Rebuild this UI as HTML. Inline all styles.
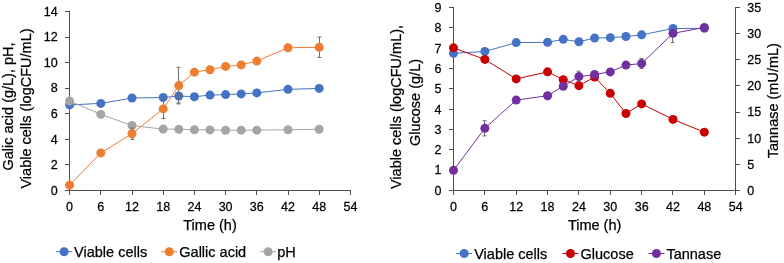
<!DOCTYPE html>
<html><head><meta charset="utf-8"><style>
html,body{margin:0;padding:0;background:#fff;}
svg{display:block;will-change:transform;}
text{font-family:"Liberation Sans", sans-serif;fill:#000000;stroke:#000000;stroke-width:0.25px;}
</style></head><body>
<svg width="784" height="263" viewBox="0 0 784 263">
<rect width="784" height="263" fill="#fff"/>
<line x1="69.5" y1="11.0" x2="69.5" y2="191.0" stroke="#4D4D4D" stroke-width="1"/>
<line x1="65.0" y1="190.5" x2="351.0" y2="190.5" stroke="#4D4D4D" stroke-width="1"/>
<line x1="65.0" y1="190.5" x2="69.5" y2="190.5" stroke="#4D4D4D" stroke-width="1"/>
<text transform="translate(57.60,194.80) scale(0.95,1)" text-anchor="end" font-size="13.2">0</text>
<line x1="65.0" y1="164.5" x2="69.5" y2="164.5" stroke="#4D4D4D" stroke-width="1"/>
<text transform="translate(57.60,169.22) scale(0.95,1)" text-anchor="end" font-size="13.2">2</text>
<line x1="65.0" y1="139.5" x2="69.5" y2="139.5" stroke="#4D4D4D" stroke-width="1"/>
<text transform="translate(57.60,143.64) scale(0.95,1)" text-anchor="end" font-size="13.2">4</text>
<line x1="65.0" y1="113.5" x2="69.5" y2="113.5" stroke="#4D4D4D" stroke-width="1"/>
<text transform="translate(57.60,118.06) scale(0.95,1)" text-anchor="end" font-size="13.2">6</text>
<line x1="65.0" y1="88.5" x2="69.5" y2="88.5" stroke="#4D4D4D" stroke-width="1"/>
<text transform="translate(57.60,92.48) scale(0.95,1)" text-anchor="end" font-size="13.2">8</text>
<line x1="65.0" y1="62.5" x2="69.5" y2="62.5" stroke="#4D4D4D" stroke-width="1"/>
<text transform="translate(57.60,66.90) scale(0.95,1)" text-anchor="end" font-size="13.2">10</text>
<line x1="65.0" y1="37.5" x2="69.5" y2="37.5" stroke="#4D4D4D" stroke-width="1"/>
<text transform="translate(57.60,41.32) scale(0.95,1)" text-anchor="end" font-size="13.2">12</text>
<line x1="65.0" y1="11.5" x2="69.5" y2="11.5" stroke="#4D4D4D" stroke-width="1"/>
<text transform="translate(57.60,15.74) scale(0.95,1)" text-anchor="end" font-size="13.2">14</text>
<line x1="69.5" y1="190.5" x2="69.5" y2="195.0" stroke="#4D4D4D" stroke-width="1"/>
<text transform="translate(69.60,210.5) scale(0.95,1)" text-anchor="middle" font-size="13.2">0</text>
<line x1="100.5" y1="190.5" x2="100.5" y2="195.0" stroke="#4D4D4D" stroke-width="1"/>
<text transform="translate(100.80,210.5) scale(0.95,1)" text-anchor="middle" font-size="13.2">6</text>
<line x1="132.5" y1="190.5" x2="132.5" y2="195.0" stroke="#4D4D4D" stroke-width="1"/>
<text transform="translate(132.00,210.5) scale(0.95,1)" text-anchor="middle" font-size="13.2">12</text>
<line x1="163.5" y1="190.5" x2="163.5" y2="195.0" stroke="#4D4D4D" stroke-width="1"/>
<text transform="translate(163.20,210.5) scale(0.95,1)" text-anchor="middle" font-size="13.2">18</text>
<line x1="194.5" y1="190.5" x2="194.5" y2="195.0" stroke="#4D4D4D" stroke-width="1"/>
<text transform="translate(194.40,210.5) scale(0.95,1)" text-anchor="middle" font-size="13.2">24</text>
<line x1="225.5" y1="190.5" x2="225.5" y2="195.0" stroke="#4D4D4D" stroke-width="1"/>
<text transform="translate(225.60,210.5) scale(0.95,1)" text-anchor="middle" font-size="13.2">30</text>
<line x1="256.5" y1="190.5" x2="256.5" y2="195.0" stroke="#4D4D4D" stroke-width="1"/>
<text transform="translate(256.80,210.5) scale(0.95,1)" text-anchor="middle" font-size="13.2">36</text>
<line x1="288.5" y1="190.5" x2="288.5" y2="195.0" stroke="#4D4D4D" stroke-width="1"/>
<text transform="translate(288.00,210.5) scale(0.95,1)" text-anchor="middle" font-size="13.2">42</text>
<line x1="319.5" y1="190.5" x2="319.5" y2="195.0" stroke="#4D4D4D" stroke-width="1"/>
<text transform="translate(319.20,210.5) scale(0.95,1)" text-anchor="middle" font-size="13.2">48</text>
<line x1="350.5" y1="190.5" x2="350.5" y2="195.0" stroke="#4D4D4D" stroke-width="1"/>
<text transform="translate(350.40,210.5) scale(0.95,1)" text-anchor="middle" font-size="13.2">54</text>
<line x1="178.50" y1="88.98" x2="178.50" y2="102.98" stroke="#6E6E6E" stroke-width="1"/>
<line x1="176.50" y1="88.98" x2="180.50" y2="88.98" stroke="#6E6E6E" stroke-width="1"/>
<line x1="176.50" y1="102.98" x2="180.50" y2="102.98" stroke="#6E6E6E" stroke-width="1"/>
<polyline points="69.60,104.93 100.80,103.40 132.00,98.03 163.20,97.52 178.80,95.98 194.40,96.75 210.00,95.09 225.60,94.58 241.20,93.94 256.80,92.91 288.00,89.33 319.20,88.44" fill="none" stroke="#4472C4" stroke-width="1.0"/>
<circle cx="69.60" cy="104.93" r="4.5" fill="#4472C4"/>
<circle cx="100.80" cy="103.40" r="4.5" fill="#4472C4"/>
<circle cx="132.00" cy="98.03" r="4.5" fill="#4472C4"/>
<circle cx="163.20" cy="97.52" r="4.5" fill="#4472C4"/>
<circle cx="178.80" cy="95.98" r="4.5" fill="#4472C4"/>
<circle cx="194.40" cy="96.75" r="4.5" fill="#4472C4"/>
<circle cx="210.00" cy="95.09" r="4.5" fill="#4472C4"/>
<circle cx="225.60" cy="94.58" r="4.5" fill="#4472C4"/>
<circle cx="241.20" cy="93.94" r="4.5" fill="#4472C4"/>
<circle cx="256.80" cy="92.91" r="4.5" fill="#4472C4"/>
<circle cx="288.00" cy="89.33" r="4.5" fill="#4472C4"/>
<circle cx="319.20" cy="88.44" r="4.5" fill="#4472C4"/>
<polyline points="69.60,100.97 100.80,114.40 132.00,125.53 163.20,129.11 178.80,129.24 194.40,129.75 210.00,129.88 225.60,130.26 241.20,130.13 256.80,130.13 288.00,129.75 319.20,129.24" fill="none" stroke="#A5A5A5" stroke-width="1.0"/>
<circle cx="69.60" cy="100.97" r="4.5" fill="#A5A5A5"/>
<circle cx="100.80" cy="114.40" r="4.5" fill="#A5A5A5"/>
<circle cx="132.00" cy="125.53" r="4.5" fill="#A5A5A5"/>
<circle cx="163.20" cy="129.11" r="4.5" fill="#A5A5A5"/>
<circle cx="178.80" cy="129.24" r="4.5" fill="#A5A5A5"/>
<circle cx="194.40" cy="129.75" r="4.5" fill="#A5A5A5"/>
<circle cx="210.00" cy="129.88" r="4.5" fill="#A5A5A5"/>
<circle cx="225.60" cy="130.26" r="4.5" fill="#A5A5A5"/>
<circle cx="241.20" cy="130.13" r="4.5" fill="#A5A5A5"/>
<circle cx="256.80" cy="130.13" r="4.5" fill="#A5A5A5"/>
<circle cx="288.00" cy="129.75" r="4.5" fill="#A5A5A5"/>
<circle cx="319.20" cy="129.24" r="4.5" fill="#A5A5A5"/>
<line x1="132.50" y1="128.01" x2="132.50" y2="139.41" stroke="#6E6E6E" stroke-width="1"/>
<line x1="130.50" y1="128.01" x2="134.50" y2="128.01" stroke="#6E6E6E" stroke-width="1"/>
<line x1="130.50" y1="139.41" x2="134.50" y2="139.41" stroke="#6E6E6E" stroke-width="1"/>
<line x1="163.50" y1="99.20" x2="163.50" y2="118.60" stroke="#6E6E6E" stroke-width="1"/>
<line x1="161.50" y1="99.20" x2="165.50" y2="99.20" stroke="#6E6E6E" stroke-width="1"/>
<line x1="161.50" y1="118.60" x2="165.50" y2="118.60" stroke="#6E6E6E" stroke-width="1"/>
<line x1="178.50" y1="67.32" x2="178.50" y2="103.92" stroke="#6E6E6E" stroke-width="1"/>
<line x1="176.50" y1="67.32" x2="180.50" y2="67.32" stroke="#6E6E6E" stroke-width="1"/>
<line x1="176.50" y1="103.92" x2="180.50" y2="103.92" stroke="#6E6E6E" stroke-width="1"/>
<line x1="319.50" y1="37.05" x2="319.50" y2="57.45" stroke="#6E6E6E" stroke-width="1"/>
<line x1="317.50" y1="37.05" x2="321.50" y2="37.05" stroke="#6E6E6E" stroke-width="1"/>
<line x1="317.50" y1="57.45" x2="321.50" y2="57.45" stroke="#6E6E6E" stroke-width="1"/>
<polyline points="69.60,185.13 100.80,152.90 132.00,133.71 163.20,108.90 178.80,85.62 194.40,72.19 210.00,69.76 225.60,66.44 241.20,64.90 256.80,61.07 288.00,47.76 319.20,47.25" fill="none" stroke="#ED7D31" stroke-width="1.0"/>
<circle cx="69.60" cy="185.13" r="4.5" fill="#ED7D31"/>
<circle cx="100.80" cy="152.90" r="4.5" fill="#ED7D31"/>
<circle cx="132.00" cy="133.71" r="4.5" fill="#ED7D31"/>
<circle cx="163.20" cy="108.90" r="4.5" fill="#ED7D31"/>
<circle cx="178.80" cy="85.62" r="4.5" fill="#ED7D31"/>
<circle cx="194.40" cy="72.19" r="4.5" fill="#ED7D31"/>
<circle cx="210.00" cy="69.76" r="4.5" fill="#ED7D31"/>
<circle cx="225.60" cy="66.44" r="4.5" fill="#ED7D31"/>
<circle cx="241.20" cy="64.90" r="4.5" fill="#ED7D31"/>
<circle cx="256.80" cy="61.07" r="4.5" fill="#ED7D31"/>
<circle cx="288.00" cy="47.76" r="4.5" fill="#ED7D31"/>
<circle cx="319.20" cy="47.25" r="4.5" fill="#ED7D31"/>
<text x="210.00" y="229.8" text-anchor="middle" font-size="14.5">Time (h)</text>
<text transform="translate(13.2,106.5) rotate(-90)" text-anchor="middle" font-size="14.5">Galic acid (g/L), pH,</text>
<text transform="translate(31.2,108.5) rotate(-90)" text-anchor="middle" font-size="14.5">Viable cells (logCFU/mL)</text>
<line x1="56.10" y1="251.7" x2="72.10" y2="251.7" stroke="#4472C4" stroke-width="1.0"/>
<circle cx="64.10" cy="251.7" r="4.5" fill="#4472C4"/>
<text x="74.10" y="256.90" font-size="14.5">Viable cells</text>
<line x1="161.30" y1="251.7" x2="177.30" y2="251.7" stroke="#ED7D31" stroke-width="1.0"/>
<circle cx="169.30" cy="251.7" r="4.5" fill="#ED7D31"/>
<text x="179.30" y="256.90" font-size="14.5">Gallic acid</text>
<line x1="260.20" y1="251.7" x2="276.20" y2="251.7" stroke="#A5A5A5" stroke-width="1.0"/>
<circle cx="268.20" cy="251.7" r="4.5" fill="#A5A5A5"/>
<text x="277.20" y="256.90" font-size="14.5">pH</text>
<line x1="453.5" y1="7.0" x2="453.5" y2="191.0" stroke="#4D4D4D" stroke-width="1"/>
<line x1="735.5" y1="7.0" x2="735.5" y2="191.0" stroke="#4D4D4D" stroke-width="1"/>
<line x1="449.0" y1="190.5" x2="740.0" y2="190.5" stroke="#4D4D4D" stroke-width="1"/>
<line x1="449.0" y1="190.5" x2="453.5" y2="190.5" stroke="#4D4D4D" stroke-width="1"/>
<text transform="translate(441.50,194.80) scale(0.95,1)" text-anchor="end" font-size="13.2">0</text>
<line x1="449.0" y1="170.5" x2="453.5" y2="170.5" stroke="#4D4D4D" stroke-width="1"/>
<text transform="translate(441.50,174.48) scale(0.95,1)" text-anchor="end" font-size="13.2">1</text>
<line x1="449.0" y1="149.5" x2="453.5" y2="149.5" stroke="#4D4D4D" stroke-width="1"/>
<text transform="translate(441.50,154.16) scale(0.95,1)" text-anchor="end" font-size="13.2">2</text>
<line x1="449.0" y1="129.5" x2="453.5" y2="129.5" stroke="#4D4D4D" stroke-width="1"/>
<text transform="translate(441.50,133.84) scale(0.95,1)" text-anchor="end" font-size="13.2">3</text>
<line x1="449.0" y1="109.5" x2="453.5" y2="109.5" stroke="#4D4D4D" stroke-width="1"/>
<text transform="translate(441.50,113.52) scale(0.95,1)" text-anchor="end" font-size="13.2">4</text>
<line x1="449.0" y1="88.5" x2="453.5" y2="88.5" stroke="#4D4D4D" stroke-width="1"/>
<text transform="translate(441.50,93.20) scale(0.95,1)" text-anchor="end" font-size="13.2">5</text>
<line x1="449.0" y1="68.5" x2="453.5" y2="68.5" stroke="#4D4D4D" stroke-width="1"/>
<text transform="translate(441.50,72.88) scale(0.95,1)" text-anchor="end" font-size="13.2">6</text>
<line x1="449.0" y1="48.5" x2="453.5" y2="48.5" stroke="#4D4D4D" stroke-width="1"/>
<text transform="translate(441.50,52.56) scale(0.95,1)" text-anchor="end" font-size="13.2">7</text>
<line x1="449.0" y1="27.5" x2="453.5" y2="27.5" stroke="#4D4D4D" stroke-width="1"/>
<text transform="translate(441.50,32.24) scale(0.95,1)" text-anchor="end" font-size="13.2">8</text>
<line x1="449.0" y1="7.5" x2="453.5" y2="7.5" stroke="#4D4D4D" stroke-width="1"/>
<text transform="translate(441.50,11.92) scale(0.95,1)" text-anchor="end" font-size="13.2">9</text>
<line x1="735.5" y1="190.5" x2="740.0" y2="190.5" stroke="#4D4D4D" stroke-width="1"/>
<text transform="translate(747.20,194.80) scale(0.95,1)" text-anchor="start" font-size="13.2">0</text>
<line x1="735.5" y1="164.5" x2="740.0" y2="164.5" stroke="#4D4D4D" stroke-width="1"/>
<text transform="translate(747.20,168.67) scale(0.95,1)" text-anchor="start" font-size="13.2">5</text>
<line x1="735.5" y1="138.5" x2="740.0" y2="138.5" stroke="#4D4D4D" stroke-width="1"/>
<text transform="translate(747.20,142.54) scale(0.95,1)" text-anchor="start" font-size="13.2">10</text>
<line x1="735.5" y1="112.5" x2="740.0" y2="112.5" stroke="#4D4D4D" stroke-width="1"/>
<text transform="translate(747.20,116.41) scale(0.95,1)" text-anchor="start" font-size="13.2">15</text>
<line x1="735.5" y1="85.5" x2="740.0" y2="85.5" stroke="#4D4D4D" stroke-width="1"/>
<text transform="translate(747.20,90.29) scale(0.95,1)" text-anchor="start" font-size="13.2">20</text>
<line x1="735.5" y1="59.5" x2="740.0" y2="59.5" stroke="#4D4D4D" stroke-width="1"/>
<text transform="translate(747.20,64.16) scale(0.95,1)" text-anchor="start" font-size="13.2">25</text>
<line x1="735.5" y1="33.5" x2="740.0" y2="33.5" stroke="#4D4D4D" stroke-width="1"/>
<text transform="translate(747.20,38.03) scale(0.95,1)" text-anchor="start" font-size="13.2">30</text>
<line x1="735.5" y1="7.5" x2="740.0" y2="7.5" stroke="#4D4D4D" stroke-width="1"/>
<text transform="translate(747.20,11.90) scale(0.95,1)" text-anchor="start" font-size="13.2">35</text>
<line x1="453.5" y1="190.5" x2="453.5" y2="195.0" stroke="#4D4D4D" stroke-width="1"/>
<text transform="translate(453.50,210.5) scale(0.95,1)" text-anchor="middle" font-size="13.2">0</text>
<line x1="484.5" y1="190.5" x2="484.5" y2="195.0" stroke="#4D4D4D" stroke-width="1"/>
<text transform="translate(484.86,210.5) scale(0.95,1)" text-anchor="middle" font-size="13.2">6</text>
<line x1="516.5" y1="190.5" x2="516.5" y2="195.0" stroke="#4D4D4D" stroke-width="1"/>
<text transform="translate(516.21,210.5) scale(0.95,1)" text-anchor="middle" font-size="13.2">12</text>
<line x1="547.5" y1="190.5" x2="547.5" y2="195.0" stroke="#4D4D4D" stroke-width="1"/>
<text transform="translate(547.57,210.5) scale(0.95,1)" text-anchor="middle" font-size="13.2">18</text>
<line x1="578.5" y1="190.5" x2="578.5" y2="195.0" stroke="#4D4D4D" stroke-width="1"/>
<text transform="translate(578.92,210.5) scale(0.95,1)" text-anchor="middle" font-size="13.2">24</text>
<line x1="610.5" y1="190.5" x2="610.5" y2="195.0" stroke="#4D4D4D" stroke-width="1"/>
<text transform="translate(610.28,210.5) scale(0.95,1)" text-anchor="middle" font-size="13.2">30</text>
<line x1="641.5" y1="190.5" x2="641.5" y2="195.0" stroke="#4D4D4D" stroke-width="1"/>
<text transform="translate(641.64,210.5) scale(0.95,1)" text-anchor="middle" font-size="13.2">36</text>
<line x1="672.5" y1="190.5" x2="672.5" y2="195.0" stroke="#4D4D4D" stroke-width="1"/>
<text transform="translate(672.99,210.5) scale(0.95,1)" text-anchor="middle" font-size="13.2">42</text>
<line x1="704.5" y1="190.5" x2="704.5" y2="195.0" stroke="#4D4D4D" stroke-width="1"/>
<text transform="translate(704.35,210.5) scale(0.95,1)" text-anchor="middle" font-size="13.2">48</text>
<line x1="735.5" y1="190.5" x2="735.5" y2="195.0" stroke="#4D4D4D" stroke-width="1"/>
<text transform="translate(735.70,210.5) scale(0.95,1)" text-anchor="middle" font-size="13.2">54</text>
<line x1="484.50" y1="120.71" x2="484.50" y2="135.91" stroke="#6E6E6E" stroke-width="1"/>
<line x1="482.50" y1="120.71" x2="486.50" y2="120.71" stroke="#6E6E6E" stroke-width="1"/>
<line x1="482.50" y1="135.91" x2="486.50" y2="135.91" stroke="#6E6E6E" stroke-width="1"/>
<line x1="578.50" y1="71.18" x2="578.50" y2="81.98" stroke="#6E6E6E" stroke-width="1"/>
<line x1="576.50" y1="71.18" x2="580.50" y2="71.18" stroke="#6E6E6E" stroke-width="1"/>
<line x1="576.50" y1="81.98" x2="580.50" y2="81.98" stroke="#6E6E6E" stroke-width="1"/>
<line x1="641.50" y1="58.52" x2="641.50" y2="68.52" stroke="#6E6E6E" stroke-width="1"/>
<line x1="639.50" y1="58.52" x2="643.50" y2="58.52" stroke="#6E6E6E" stroke-width="1"/>
<line x1="639.50" y1="68.52" x2="643.50" y2="68.52" stroke="#6E6E6E" stroke-width="1"/>
<line x1="672.50" y1="33.36" x2="672.50" y2="42.36" stroke="#6E6E6E" stroke-width="1"/>
<line x1="670.50" y1="33.36" x2="674.50" y2="33.36" stroke="#6E6E6E" stroke-width="1"/>
<line x1="670.50" y1="42.36" x2="674.50" y2="42.36" stroke="#6E6E6E" stroke-width="1"/>
<polyline points="453.50,53.34 484.86,51.51 516.21,42.57 547.57,42.37 563.25,39.32 578.92,41.76 594.60,38.10 610.28,37.69 625.96,36.47 641.64,34.85 672.99,28.55 704.35,28.35" fill="none" stroke="#4472C4" stroke-width="1.0"/>
<circle cx="453.50" cy="53.34" r="4.5" fill="#4472C4"/>
<circle cx="484.86" cy="51.51" r="4.5" fill="#4472C4"/>
<circle cx="516.21" cy="42.57" r="4.5" fill="#4472C4"/>
<circle cx="547.57" cy="42.37" r="4.5" fill="#4472C4"/>
<circle cx="563.25" cy="39.32" r="4.5" fill="#4472C4"/>
<circle cx="578.92" cy="41.76" r="4.5" fill="#4472C4"/>
<circle cx="594.60" cy="38.10" r="4.5" fill="#4472C4"/>
<circle cx="610.28" cy="37.69" r="4.5" fill="#4472C4"/>
<circle cx="625.96" cy="36.47" r="4.5" fill="#4472C4"/>
<circle cx="641.64" cy="34.85" r="4.5" fill="#4472C4"/>
<circle cx="672.99" cy="28.55" r="4.5" fill="#4472C4"/>
<circle cx="704.35" cy="28.35" r="4.5" fill="#4472C4"/>
<polyline points="453.50,47.85 484.86,59.44 516.21,78.94 547.57,71.83 563.25,79.76 578.92,85.65 594.60,77.11 610.28,93.37 625.96,113.49 641.64,103.94 672.99,119.38 704.35,132.18" fill="none" stroke="#C80000" stroke-width="1.0"/>
<circle cx="453.50" cy="47.85" r="4.5" fill="#C80000"/>
<circle cx="484.86" cy="59.44" r="4.5" fill="#C80000"/>
<circle cx="516.21" cy="78.94" r="4.5" fill="#C80000"/>
<circle cx="547.57" cy="71.83" r="4.5" fill="#C80000"/>
<circle cx="563.25" cy="79.76" r="4.5" fill="#C80000"/>
<circle cx="578.92" cy="85.65" r="4.5" fill="#C80000"/>
<circle cx="594.60" cy="77.11" r="4.5" fill="#C80000"/>
<circle cx="610.28" cy="93.37" r="4.5" fill="#C80000"/>
<circle cx="625.96" cy="113.49" r="4.5" fill="#C80000"/>
<circle cx="641.64" cy="103.94" r="4.5" fill="#C80000"/>
<circle cx="672.99" cy="119.38" r="4.5" fill="#C80000"/>
<circle cx="704.35" cy="132.18" r="4.5" fill="#C80000"/>
<polyline points="453.50,170.33 484.86,128.31 516.21,100.10 547.57,95.71 563.25,86.25 578.92,76.58 594.60,74.49 610.28,71.88 625.96,65.08 641.64,63.52 672.99,33.36 704.35,27.46" fill="none" stroke="#7030A0" stroke-width="1.0"/>
<circle cx="453.50" cy="170.33" r="4.5" fill="#7030A0"/>
<circle cx="484.86" cy="128.31" r="4.5" fill="#7030A0"/>
<circle cx="516.21" cy="100.10" r="4.5" fill="#7030A0"/>
<circle cx="547.57" cy="95.71" r="4.5" fill="#7030A0"/>
<circle cx="563.25" cy="86.25" r="4.5" fill="#7030A0"/>
<circle cx="578.92" cy="76.58" r="4.5" fill="#7030A0"/>
<circle cx="594.60" cy="74.49" r="4.5" fill="#7030A0"/>
<circle cx="610.28" cy="71.88" r="4.5" fill="#7030A0"/>
<circle cx="625.96" cy="65.08" r="4.5" fill="#7030A0"/>
<circle cx="641.64" cy="63.52" r="4.5" fill="#7030A0"/>
<circle cx="672.99" cy="33.36" r="4.5" fill="#7030A0"/>
<circle cx="704.35" cy="27.46" r="4.5" fill="#7030A0"/>
<text x="594.60" y="229.8" text-anchor="middle" font-size="14.5">Time (h)</text>
<text transform="translate(400.7,107.0) rotate(-90)" text-anchor="middle" font-size="14.5">Viable cells (logCFU/mL),</text>
<text transform="translate(419.5,102.5) rotate(-90)" text-anchor="middle" font-size="14.5">Glucose (g/L)</text>
<text transform="translate(778.3,100.7) rotate(-90)" text-anchor="middle" font-size="14.5">Tannase (mU/mL)</text>
<line x1="456.20" y1="253.5" x2="472.20" y2="253.5" stroke="#4472C4" stroke-width="1.0"/>
<circle cx="464.20" cy="253.5" r="4.5" fill="#4472C4"/>
<text x="474.20" y="258.70" font-size="14.5">Viable cells</text>
<line x1="562.50" y1="253.5" x2="578.50" y2="253.5" stroke="#C80000" stroke-width="1.0"/>
<circle cx="570.50" cy="253.5" r="4.5" fill="#C80000"/>
<text x="580.50" y="258.70" font-size="14.5">Glucose</text>
<line x1="648.40" y1="253.5" x2="664.40" y2="253.5" stroke="#7030A0" stroke-width="1.0"/>
<circle cx="656.40" cy="253.5" r="4.5" fill="#7030A0"/>
<text x="666.40" y="258.70" font-size="14.5">Tannase</text>
</svg>
</body></html>
